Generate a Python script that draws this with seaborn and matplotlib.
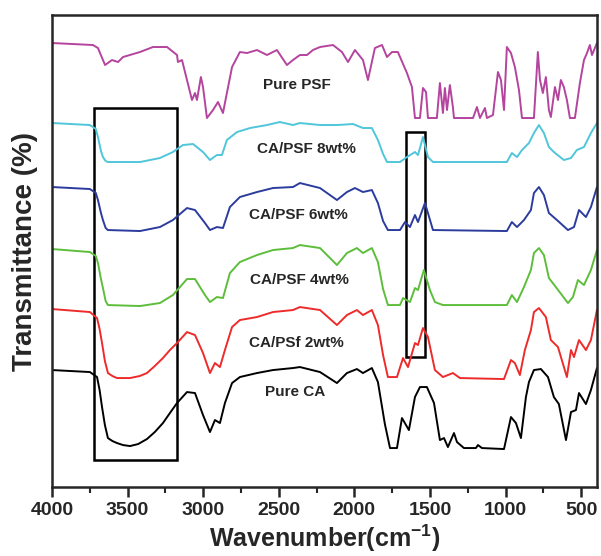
import numpy as np
import pandas as pd
import matplotlib
matplotlib.use("Agg")
import matplotlib.pyplot as plt
from matplotlib.patches import Rectangle
from matplotlib.ticker import MultipleLocator
import seaborn as sns

# FTIR spectra, stacked (transmittance in arbitrary units, offsets included)
psf_wn = [4000, 3729, 3696, 3649, 3603, 3563, 3530, 3418, 3332, 3239, 3173, 3167, 3140, 3107, 3074,
          3054, 3041, 3015, 3001, 2975, 2935, 2902, 2869, 2843, 2809, 2757, 2710, 2644, 2578, 2512,
          2446, 2406, 2360, 2313, 2274, 2227, 2141, 2082, 2042, 1996, 1943, 1910, 1864, 1817, 1784,
          1751, 1712, 1652, 1619, 1599, 1566, 1546, 1526, 1513, 1454, 1434, 1414, 1401, 1387, 1368,
          1348, 1341, 1215, 1189, 1169, 1136, 1123, 1083, 1050, 1030, 1010, 991, 964, 938, 911, 891,
          812, 786, 772, 753, 733, 713, 700, 673, 653, 634, 614, 594, 574, 541, 508, 481, 461, 442,
          428, 395]
psf_t = [444, 442, 439, 422, 427, 425, 430, 435, 440, 440, 432, 425, 427, 407, 387,
         394, 387, 410, 400, 369, 377, 385, 374, 394, 420, 435, 434, 437, 432, 437,
         422, 427, 432, 432, 437, 440, 442, 435, 425, 437, 427, 407, 439, 442, 430,
         435, 435, 414, 400, 369, 369, 399, 395, 369, 369, 404, 374, 399, 377, 402,
         380, 369, 369, 380, 369, 379, 369, 372, 415, 407, 377, 440, 434, 420, 397, 369,
         369, 435, 407, 394, 410, 377, 370, 400, 387, 407, 400, 387, 369, 369, 404, 427, 434, 442,
         432, 444]

wt8_wn = [4000, 3749, 3710, 3696, 3676, 3663, 3645, 3630, 3418, 3286, 3200, 3134, 3067, 3001, 2955,
          2909, 2876, 2843, 2776, 2690, 2578, 2492, 2406, 2360, 2227, 2115, 2009, 1943, 1884, 1844,
          1810, 1784, 1698, 1652, 1599, 1579, 1546, 1513, 1480, 1348, 991, 958, 924, 891, 845, 812,
          779, 746, 713, 680, 614, 567, 528, 481, 435, 395]
wt8_t = [364, 362, 358, 350, 336, 330, 326, 325, 325, 329, 335, 342, 343, 335, 327,
         332, 332, 347, 355, 359, 362, 365, 362, 364, 362, 362, 363, 359, 359, 347,
         333, 325, 325, 330, 335, 332, 350, 330, 325, 325, 325, 334, 330, 337, 344, 354,
         362, 354, 340, 335, 327, 329, 337, 340, 354, 364]

wt6_wn = [4000, 3749, 3710, 3696, 3676, 3663, 3645, 3630, 3418, 3286, 3200, 3107, 3054, 2988, 2955,
          2909, 2869, 2823, 2757, 2644, 2538, 2406, 2360, 2227, 2115, 2049, 1996, 1943, 1884, 1844,
          1810, 1778, 1698, 1665, 1632, 1599, 1579, 1533, 1513, 1480, 991, 958, 924, 878, 832, 812,
          779, 746, 713, 660, 587, 547, 514, 468, 435, 395]
wt6_t = [300, 298, 294, 287, 274, 267, 259, 257, 256, 260, 267, 279, 277, 264, 257,
         260, 259, 280, 290, 295, 299, 300, 304, 299, 287, 295, 299, 295, 297, 284,
         266, 257, 257, 265, 260, 272, 265, 284, 274, 257, 256, 265, 260, 267, 277, 294,
         300, 292, 274, 267, 257, 260, 277, 270, 280, 300]

wt4_wn = [4000, 3749, 3710, 3696, 3676, 3663, 3645, 3630, 3418, 3286, 3200, 3107, 3054, 2988, 2955,
          2909, 2869, 2823, 2757, 2644, 2538, 2406, 2360, 2227, 2115, 2049, 1983, 1943, 1884, 1844,
          1810, 1778, 1698, 1678, 1632, 1599, 1579, 1540, 1500, 1467, 1414, 991, 958, 924, 878, 832,
          812, 779, 746, 713, 667, 587, 554, 521, 481, 435, 395]
wt4_t = [238, 235, 231, 224, 208, 199, 186, 182, 181, 184, 192, 208, 208, 192, 185,
         190, 189, 214, 225, 232, 237, 239, 242, 239, 222, 234, 239, 234, 239, 225,
         198, 182, 182, 189, 185, 199, 197, 217, 197, 185, 182, 182, 192, 185, 200, 217,
         234, 239, 232, 209, 200, 184, 190, 207, 202, 217, 237]

wt2_wn = [4000, 3749, 3702, 3685, 3669, 3650, 3630, 3600, 3570, 3484, 3420, 3372, 3320, 3266, 3220,
          3173, 3107, 3054, 3001, 2955, 2922, 2889, 2856, 2809, 2757, 2644, 2538, 2406, 2360, 2227,
          2115, 2049, 1983, 1943, 1884, 1844, 1810, 1778, 1718, 1678, 1645, 1599, 1579, 1546, 1513,
          1467, 1414, 1381, 1348, 1301, 1010, 964, 938, 905, 872, 832, 812, 779, 733, 700, 653, 594,
          567, 547, 514, 468, 435, 395]
wt2_t = [178, 175, 169, 158, 144, 126, 114, 111, 109, 109, 111, 114, 121, 129, 137,
         144, 155, 152, 134, 114, 124, 120, 137, 160, 167, 170, 175, 177, 180, 177,
         162, 172, 177, 172, 177, 162, 132, 110, 110, 129, 120, 144, 142, 159, 150,
         117, 110, 112, 114, 109, 108, 127, 124, 112, 137, 157, 175, 179, 170, 147, 140, 110,
         137, 130, 147, 137, 147, 177]

ca_wn = [4000, 3749, 3702, 3685, 3669, 3650, 3630, 3600, 3570, 3530, 3484, 3430, 3372, 3320, 3266,
         3220, 3173, 3107, 3054, 3001, 2955, 2922, 2889, 2856, 2809, 2757, 2644, 2538, 2406, 2360,
         2227, 2115, 2049, 1983, 1943, 1884, 1844, 1798, 1764, 1718, 1685, 1639, 1599, 1566, 1520,
         1473, 1434, 1407, 1381, 1341, 1321, 1275, 1196, 1182, 1156, 1010, 964, 931, 898, 865, 845,
         812, 766, 719, 680, 647, 600, 567, 534, 514, 468, 435, 395]
ca_t = [117, 115, 110, 97, 80, 62, 49, 46, 44, 42, 41, 43, 48, 55, 64,
        74, 84, 95, 94, 72, 55, 67, 64, 84, 104, 110, 114, 117, 119, 120,
        115, 104, 114, 118, 114, 119, 105, 63, 39, 39, 69, 57, 90, 100, 100,
        84, 47, 49, 40, 54, 45, 39, 39, 42, 39, 38, 70, 64, 49, 90, 105,
        117, 118, 110, 90, 83, 47, 75, 77, 94, 83, 97, 119]

series_names = ["Pure PSF", "CA/PSF 8wt%", "CA/PSF 6wt%", "CA/PSF 4wt%", "CA/PSf 2wt%", "Pure CA"]
series_wn = [psf_wn, wt8_wn, wt6_wn, wt4_wn, wt2_wn, ca_wn]
series_t = [psf_t, wt8_t, wt6_t, wt4_t, wt2_t, ca_t]
series_colors = ["#B4449E", "#4FC6DA", "#2C3C9E", "#5DBE3B", "#EE2B2B", "#000000"]

# label anchor (wavenumber, transmittance)
label_wn = [2380, 2320, 2373, 2360, 2386, 2393]
label_t = [402, 338, 272, 207, 144, 95]

# highlighted regions: (wn_left, wn_right, t_bottom, t_top)
box_regions = [(3722, 3173, 27, 379), (1659, 1533, 130, 355)]

sns.set_style("ticks")
plt.rcParams['font.family'] = ['Liberation Sans', 'DejaVu Sans']
plt.rcParams['font.weight'] = 'bold'
plt.rcParams['mathtext.fontset'] = 'custom'
plt.rcParams['mathtext.rm'] = 'Liberation Sans:bold'
plt.rcParams['mathtext.bf'] = 'Liberation Sans:bold'

fig = plt.figure(figsize=(6.01, 5.56), dpi=100)
ax = fig.add_axes([0.0865, 0.124, 0.9068, 0.849])

for name, wn, t, c in zip(series_names, series_wn, series_t, series_colors):
    df = pd.DataFrame({"wn": wn, "t": t})
    sns.lineplot(data=df, x="wn", y="t", sort=False, color=c, linewidth=1.4, ax=ax)

for line in ax.get_lines():
    line.set_solid_joinstyle("round")

for name, x, y in zip(series_names, label_wn, label_t):
    ax.text(x, y, name, ha="center", va="center", fontsize=11, fontweight="bold")

for x0, x1, y0, y1 in box_regions:
    ax.add_patch(Rectangle((x1, y0), x0 - x1, y1 - y0, fill=False, edgecolor="black", linewidth=1.8))

ax.set_xlim(4000, 395)
ax.set_ylim(0, 472)
ax.xaxis.set_major_locator(MultipleLocator(500))
ax.xaxis.set_minor_locator(MultipleLocator(250))
ax.set_yticks([])
ax.tick_params(axis="x", which="major", length=7, width=1.8, labelsize=14, direction="out")
ax.tick_params(axis="x", which="minor", length=4, width=1.5, direction="out")
for lbl in ax.get_xticklabels():
    lbl.set_fontweight("bold")
for s in ax.spines.values():
    s.set_linewidth(1.8)
    s.set_visible(True)

ax.set_xlabel("Wavenumber(cm$^{\\mathrm{-1}}$)", fontsize=18, fontweight="bold", labelpad=3)
ax.set_ylabel("Transmittance (%)", fontsize=20, fontweight="bold", labelpad=10)

fig.savefig("out.png", dpi=100)
